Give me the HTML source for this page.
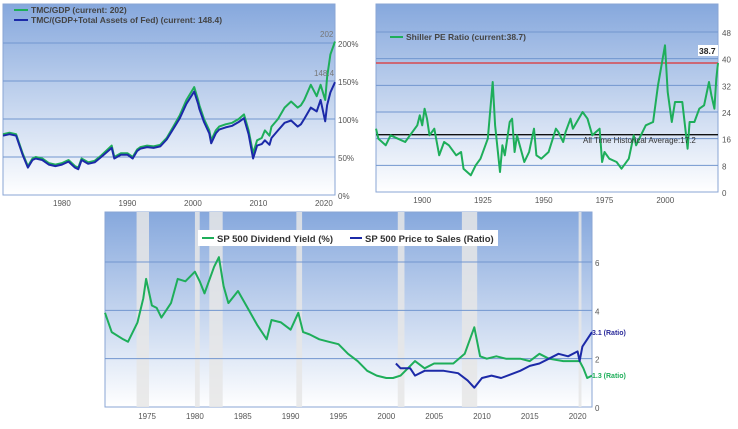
<!DOCTYPE html>
<html><head><meta charset="utf-8"><style>
html,body{margin:0;padding:0;background:#fff;width:738px;height:429px;overflow:hidden}
svg{display:block;font-family:"Liberation Sans",sans-serif}
</style></head><body>
<svg id="s" width="738" height="429">
<defs>
<linearGradient id="bg" x1="0" y1="0" x2="0" y2="1">
<stop offset="0" stop-color="#86a8dd"/><stop offset="1" stop-color="#ffffff"/>
</linearGradient>
</defs>
</svg>
<script>
// ---- Chart 1: TMC/GDP ----
const c1Years=[1971,1972,1973,1974,1974.8,1975.5,1976,1977,1978,1979,1980,1981,1982,1982.5,1983,1984,1985,1986,1987.6,1988,1989,1990,1990.8,1991.5,1992,1993,1994,1995,1996,1997,1998,1999,2000.2,2000.8,2001,2001.7,2002.5,2002.8,2003.5,2004,2005,2006,2007,2007.8,2008.5,2009.2,2009.8,2010.5,2011,2011.7,2012,2013,2014,2015,2016,2016.5,2017,2018,2018.9,2019.5,2020.2,2020.5,2021,2021.7];
const c1Tmc=[80,82,80,55,38,48,50,48,42,40,42,46,38,36,48,43,45,52,65,50,55,55,50,60,63,65,64,66,75,90,105,125,142,125,118,100,85,72,85,90,93,95,100,106,85,55,72,75,85,78,90,100,115,123,115,118,125,145,130,145,125,155,185,202];
const c1Fed=[78,80,78,53,36,46,48,46,40,38,40,44,36,34,46,41,43,50,62,48,53,53,48,58,61,63,62,64,73,87,101,120,136,120,113,96,81,68,81,86,89,91,96,101,80,48,65,67,72,66,75,85,95,98,90,93,100,115,110,125,97,118,135,148.4];
const c1YTicks=[0,50,100,150,200];
const c1XTicks=[1980,1990,2000,2010,2020];
// ---- Chart 2: Shiller PE ----
const c2Years=[1881,1882,1885,1887,1890,1893,1895,1898,1899,1900,1901,1902,1903,1905,1907,1909,1911,1914,1916,1917,1920,1922,1924,1927,1929,1930,1932,1933,1934,1936,1937,1938,1939,1942,1944,1946,1947,1949,1952,1955,1956,1958,1959,1961,1962,1966,1968,1970,1973,1974,1975,1977,1980,1982,1985,1987,1988,1990,1992,1995,1997,1999.9,2001,2002.7,2004,2006,2007,2009.2,2010,2012,2014,2016,2018,2019,2020.2,2021,2021.7];
const c2Pe=[19,16,14,17,16,15,17,20,23,20,25,22,17,19,11,15,14,11,12,7,5,8,10,16,33,20,6,14,11,21,22,12,17,9,12,19,11,10,12,19,18,15,18,22,19,24,22,17,19,9,12,10,9,7,10,17,14,17,20,21,32,44,30,21,27,27,27,13,21,21,25,26,33,29,25,34,38.7];
const c2YTicks=[0,8,16,24,32,40,48];
const c2XTicks=[1900,1925,1950,1975,2000];
// ---- Chart 3: Dividend yield & P/S ----
const c3Years=[1970.6,1971.3,1972.5,1973,1974,1974.6,1974.9,1975.5,1976,1976.5,1977.5,1978.2,1979,1980,1980.5,1981,1982,1982.5,1983,1983.5,1984.5,1985.5,1986.5,1987.5,1988,1989,1990,1990.8,1991.3,1992,1993,1994,1995,1996,1997,1998,1999,2000,2000.7,2001.5,2002.5,2003,2004,2005,2006,2007,2008.2,2009.2,2009.8,2010.5,2011.5,2012.5,2014,2015,2016,2017,2018.5,2019.5,2020.2,2020.6,2020.8,2021,2021.5];
const c3Div=[3.9,3.1,2.8,2.7,3.5,4.5,5.3,4.2,4.1,3.7,4.3,5.3,5.2,5.6,5.2,4.7,5.8,6.2,5.0,4.3,4.8,4.1,3.4,2.8,3.6,3.5,3.2,3.9,3.1,3.0,2.8,2.7,2.6,2.2,1.9,1.5,1.3,1.2,1.2,1.3,1.7,1.9,1.6,1.8,1.8,1.8,2.2,3.3,2.1,2.0,2.1,2.0,2.0,1.9,2.2,2.0,1.9,1.9,1.9,1.6,1.4,1.2,1.3];
const c3PsYears=[2001,2001.5,2002.5,2003,2004,2006,2007.5,2008.5,2009.2,2010,2011,2012,2014,2015,2016,2017,2018,2019,2020,2020.2,2020.5,2021,2021.5];
const c3Ps=[1.8,1.6,1.6,1.3,1.5,1.5,1.4,1.1,0.8,1.2,1.3,1.2,1.5,1.7,1.8,2.0,2.2,2.1,2.3,1.9,2.5,2.8,3.1];
const c3RecStart=[1973.9,1980.0,1981.5,1990.6,2001.2,2007.9,2020.1];
const c3RecEnd=[1975.2,1980.5,1982.9,1991.2,2001.9,2009.5,2020.4];
const c3YTicks=[0,2,4,6];
const c3XTicks=[1975,1980,1985,1990,1995,2000,2005,2010,2015,2020];

const S=document.getElementById('s');const NS='http://www.w3.org/2000/svg';
function mk(t,a,p){const e=document.createElementNS(NS,t);for(const k in a)e.setAttribute(k,a[k]);(p||S).appendChild(e);return e;}
function txt(x,y,s,a,p){const e=mk('text',Object.assign({x:x,y:y},a),p);e.textContent=s;return e;}
function scale(d0,d1,r0,r1){return v=>r0+(v-d0)/(d1-d0)*(r1-r0);}
function line(xs,ys,X,Y,col,g){let d='';xs.forEach((v,i)=>{d+=(i?'L':'M')+X(v).toFixed(1)+','+Y(ys[i]).toFixed(1);});return mk('path',{d:d,fill:'none',stroke:col,'stroke-width':2,'stroke-linejoin':'round'},g);}
const GREEN='#1eae5a',BLUE='#1c2aa8',GRID='#7296cf';

// Chart 1
{const g=mk('g',{});
const L=3,R=335,T=4,B=195;const X=scale(1971,2021.7,L,R),Y=scale(0,200,B,43);
mk('rect',{x:L,y:T,width:R-L,height:B-T,fill:'url(#bg)',stroke:'#8aa6d4'},g);
c1YTicks.forEach(v=>{if(v>0)mk('line',{x1:L,x2:R,y1:Y(v),y2:Y(v),stroke:GRID},g);const t=txt(338,Y(v)+4,v+'%',{'font-size':8,fill:'#555'},g);});
c1XTicks.forEach(v=>{const t=txt(X(v),206,v,{'font-size':8,fill:'#555','text-anchor':'middle'},g);});
const l1=line(c1Years,c1Tmc,X,Y,GREEN,g);
const l2=line(c1Years,c1Fed,X,Y,BLUE,g);
mk('line',{x1:14,x2:28,y1:10,y2:10,stroke:GREEN,'stroke-width':2},g);
const a=txt(31,13,'TMC/GDP (current: 202)',{'font-size':8.5,'font-weight':'bold',fill:'#444'},g);
mk('line',{x1:14,x2:28,y1:20,y2:20,stroke:BLUE,'stroke-width':2},g);
const b=txt(31,23,'TMC/(GDP+Total Assets of Fed) (current: 148.4)',{'font-size':8.5,'font-weight':'bold',fill:'#444'},g);
const c=txt(320,37,'202',{'font-size':8,fill:'#777'},g);
const d=txt(314,76,'148.4',{'font-size':8,fill:'#777'},g);}

// Chart 2
{const g=mk('g',{});
const L=376,R=718,T=4,B=192;const X=scale(1881,2021.7,L,R),Y=scale(0,48,B,32);
mk('rect',{x:L,y:T,width:R-L,height:B-T,fill:'url(#bg)',stroke:'#8aa6d4'},g);
c2YTicks.forEach(v=>{if(v>0)mk('line',{x1:L,x2:R,y1:Y(v),y2:Y(v),stroke:GRID},g);const t=txt(722,Y(v)+4,v,{'font-size':8,fill:'#555'},g);});
c2XTicks.forEach(v=>{const t=txt(X(v),203,v,{'font-size':8,fill:'#555','text-anchor':'middle'},g);});
const al=mk('line',{x1:L,x2:R,y1:Y(17.2),y2:Y(17.2),stroke:'#111','stroke-width':1.3},g);
const rl=mk('line',{x1:L,x2:R,y1:Y(38.7),y2:Y(38.7),stroke:'#e03030','stroke-width':1.3},g);
const l=line(c2Years,c2Pe,X,Y,GREEN,g);
const at=txt(583,143,'All Time Historical Average:17.2',{'font-size':8,fill:'#333'},g);
mk('rect',{x:698,y:45,width:20,height:11,fill:'#fff'},g);
const cv=txt(699,54,'38.7',{'font-size':8.5,'font-weight':'bold',fill:'#222'},g);
mk('line',{x1:390,x2:403,y1:37,y2:37,stroke:GREEN,'stroke-width':2},g);
const lg=txt(406,40,'Shiller PE Ratio (current:38.7)',{'font-size':8.5,'font-weight':'bold',fill:'#444'},g);}

// Chart 3
{const g=mk('g',{});
const L=105,R=592,T=212,B=407;const X=scale(1970.6,2021.5,L,R),Y=scale(0,6,B,262);
mk('rect',{x:L,y:T,width:R-L,height:B-T,fill:'url(#bg)',stroke:'#8aa6d4'},g);
c3RecStart.forEach((s,i)=>{const r=mk('rect',{x:X(s),y:T,width:X(c3RecEnd[i])-X(s),height:B-T,fill:'#e6e6e6','fill-opacity':0.85},g);});
c3YTicks.forEach(v=>{if(v>0)mk('line',{x1:L,x2:R,y1:Y(v),y2:Y(v),stroke:GRID},g);const t=txt(595,Y(v)+4,v,{'font-size':8,fill:'#555'},g);});
c3XTicks.forEach(v=>{const t=txt(X(v),419,v,{'font-size':8,fill:'#555','text-anchor':'middle'},g);});
const l1=line(c3Years,c3Div,X,Y,GREEN,g);
const l2=line(c3PsYears,c3Ps,X,Y,BLUE,g);
const lb=mk('rect',{x:198,y:230,width:300,height:16,fill:'#fff'},g);
mk('line',{x1:202,x2:214,y1:238,y2:238,stroke:GREEN,'stroke-width':2},g);
const a=txt(217,242,'SP 500 Dividend Yield (%)',{'font-size':9.5,'font-weight':'bold',fill:'#333'},g);
mk('line',{x1:350,x2:362,y1:238,y2:238,stroke:BLUE,'stroke-width':2},g);
const b=txt(365,242,'SP 500 Price to Sales (Ratio)',{'font-size':9.5,'font-weight':'bold',fill:'#333'},g);
const c=txt(592,335,'3.1 (Ratio)',{'font-size':7,'font-weight':'bold',fill:'#2a2a9a'},g);
const d=txt(592,378,'1.3 (Ratio)',{'font-size':7,'font-weight':'bold',fill:GREEN},g);}
</script>
</body></html>
